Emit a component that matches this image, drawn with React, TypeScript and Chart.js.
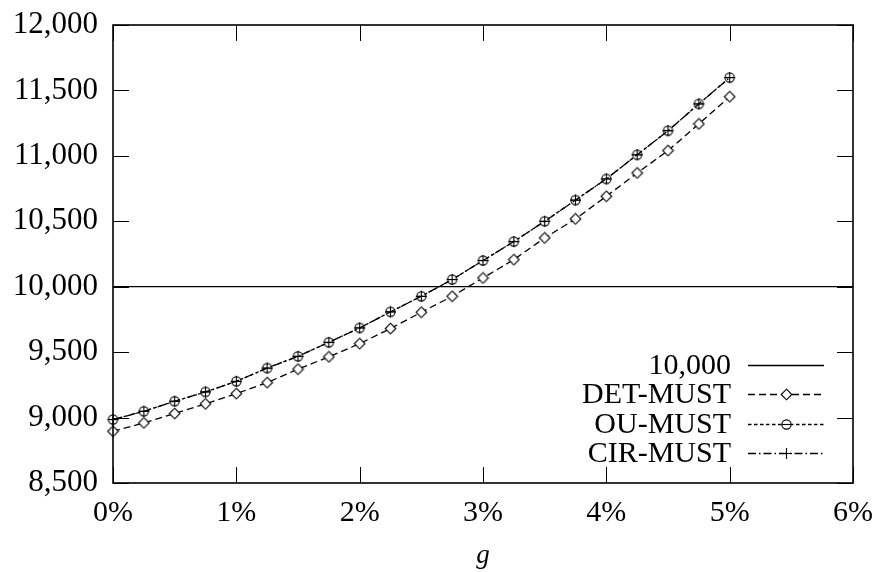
import React, { useEffect, useRef } from 'react';
import { Chart, registerables } from 'chart.js';

Chart.register(...registerables);

// ---- data ----
const G_VALUES = [0, 0.25, 0.5, 0.75, 1, 1.25, 1.5, 1.75, 2, 2.25, 2.5, 2.75, 3, 3.25, 3.5, 3.75, 4, 4.25, 4.5, 4.75, 5];
const DET_MUST = [8895, 8959, 9031, 9105, 9183, 9267, 9370, 9464, 9565, 9680, 9805, 9927, 10067, 10207, 10373, 10518, 10691, 10869, 11040, 11244, 11452];
const OU_MUST = [8985, 9048, 9125, 9196, 9277, 9378, 9468, 9575, 9685, 9808, 9927, 10055, 10200, 10345, 10500, 10662, 10824, 11008, 11192, 11397, 11598];
const CIR_MUST = [8985, 9048, 9125, 9196, 9277, 9378, 9468, 9575, 9685, 9808, 9927, 10055, 10200, 10345, 10500, 10662, 10824, 11008, 11192, 11397, 11598];
const REF_VALUE = 10000;
const X_RANGE = [0, 6];
const Y_RANGE = [8500, 12000];
const X_STEP = 1;
const Y_STEP = 500;
const SERIES_LABELS = ['10,000', 'DET-MUST', 'OU-MUST', 'CIR-MUST'];
const X_TITLE = 'g';

const FONT = '"Liberation Serif", "DejaVu Serif", serif';

function makeMarker(kind: string): HTMLCanvasElement {
  const c = document.createElement('canvas');
  c.width = 13;
  c.height = 13;
  const ctx = c.getContext('2d')!;
  ctx.strokeStyle = '#000';
  ctx.fillStyle = '#fff';
  ctx.lineWidth = 1.1;
  const m = 6.5;
  if (kind === 'diamond') {
    ctx.beginPath();
    ctx.moveTo(m, 1.2);
    ctx.lineTo(11.8, m);
    ctx.lineTo(m, 11.8);
    ctx.lineTo(1.2, m);
    ctx.closePath();
    ctx.fill();
    ctx.stroke();
  } else if (kind === 'circleminus') {
    ctx.beginPath();
    ctx.arc(m, m, 4.6, 0, Math.PI * 2);
    ctx.fill();
    ctx.stroke();
    ctx.beginPath();
    ctx.moveTo(2, m);
    ctx.lineTo(11, m);
    ctx.stroke();
  } else if (kind === 'plus') {
    ctx.beginPath();
    ctx.moveTo(m, 1);
    ctx.lineTo(m, 12);
    ctx.moveTo(1, m);
    ctx.lineTo(12, m);
    ctx.stroke();
  }
  return c;
}

export default function App() {
  const ref = useRef<HTMLCanvasElement | null>(null);

  useEffect(() => {
    let chart: any = null;
    let cancelled = false;

    const build = () => {
      if (cancelled || !ref.current) return;
      const diamond = makeMarker('diamond');
      const circ = makeMarker('circleminus');
      const plus = makeMarker('plus');

      const toPts = (ys: number[]) => G_VALUES.map((x, i) => ({ x, y: ys[i] }));

      const frameAndLegend = {
        id: 'frameAndLegend',
        afterDraw(c: any) {
          const { ctx, chartArea } = c;
          const { left, right, top, bottom } = chartArea;
          const xs = c.scales.x;
          const ys = c.scales.y;
          ctx.save();
          ctx.strokeStyle = '#000';
          ctx.lineWidth = 1;
          const tl = 16;
          for (let v = X_RANGE[0]; v <= X_RANGE[1]; v += X_STEP) {
            const px = Math.round(xs.getPixelForValue(v)) + 0.5;
            ctx.beginPath();
            ctx.moveTo(px, bottom);
            ctx.lineTo(px, bottom - tl);
            ctx.moveTo(px, top);
            ctx.lineTo(px, top + tl);
            ctx.stroke();
          }
          for (let v = Y_RANGE[0]; v <= Y_RANGE[1]; v += Y_STEP) {
            const py = Math.round(ys.getPixelForValue(v)) + 0.5;
            ctx.beginPath();
            ctx.moveTo(left, py);
            ctx.lineTo(left + tl, py);
            ctx.moveTo(right, py);
            ctx.lineTo(right - tl, py);
            ctx.stroke();
          }
          ctx.lineWidth = 1.6;
          ctx.strokeRect(left, top, right - left, bottom - top);

          const textRight = right - 122;
          const lineStart = right - 105;
          const lineEnd = right - 29;
          const mid = (lineStart + lineEnd) / 2;
          const firstRow = bottom - 118;
          const pitch = 29.3;
          ctx.font = `30px ${FONT}`;
          ctx.fillStyle = '#000';
          ctx.textAlign = 'right';
          ctx.textBaseline = 'middle';
          c.data.datasets.forEach((ds: any, i: number) => {
            const y = Math.round(firstRow + i * pitch) + 0.5;
            ctx.fillText(ds.label, textRight, y + 1);
            ctx.save();
            ctx.lineWidth = ds.borderWidth;
            ctx.setLineDash(ds.borderDash || []);
            ctx.beginPath();
            ctx.moveTo(lineStart, y);
            ctx.lineTo(lineEnd, y);
            ctx.stroke();
            ctx.restore();
            const ps = ds.pointStyle;
            if (ps && typeof ps !== 'string' && ds.pointRadius > 0) {
              ctx.drawImage(ps, Math.round(mid - ps.width / 2), Math.round(y - ps.height / 2));
            }
          });
          ctx.restore();
        },
      };

      chart = new Chart(ref.current, {
        type: 'line',
        data: {
          datasets: [
            {
              label: SERIES_LABELS[0],
              data: X_RANGE.map((x) => ({ x, y: REF_VALUE })),
              borderColor: '#000',
              borderWidth: 1.3,
              pointRadius: 0,
              pointStyle: false as any,
              order: 3,
            },
            {
              label: SERIES_LABELS[1],
              data: toPts(DET_MUST),
              borderColor: '#000',
              borderWidth: 1.3,
              borderDash: [7, 4],
              pointStyle: diamond as any,
              pointRadius: 5,
              clip: false as any,
              order: 2,
            },
            {
              label: SERIES_LABELS[2],
              data: toPts(OU_MUST),
              borderColor: '#000',
              borderWidth: 1.3,
              borderDash: [3.5, 2.5],
              pointStyle: circ as any,
              pointRadius: 5,
              clip: false as any,
              order: 1,
            },
            {
              label: SERIES_LABELS[3],
              data: toPts(CIR_MUST),
              borderColor: '#000',
              borderWidth: 1.3,
              borderDash: [8, 3, 1.5, 3],
              pointStyle: plus as any,
              pointRadius: 5,
              clip: false as any,
              order: 0,
            },
          ],
        },
        options: {
          animation: false,
          responsive: false,
          maintainAspectRatio: false,
          layout: { padding: { top: 25, right: 21, left: 0, bottom: 0 } },
          plugins: {
            legend: { display: false },
            tooltip: { enabled: false },
          },
          elements: { line: { tension: 0 } },
          scales: {
            x: {
              type: 'linear',
              min: X_RANGE[0],
              max: X_RANGE[1],
              grid: { display: false, drawTicks: false },
              border: { display: false },
              ticks: {
                stepSize: X_STEP,
                color: '#000',
                font: { family: FONT, size: 30 },
                padding: 12,
                maxRotation: 0,
                callback: (v: any) => `${v}%`,
              },
              title: {
                display: true,
                text: X_TITLE,
                color: '#000',
                font: { family: FONT, size: 27, style: 'italic' },
                padding: { top: 0, bottom: 0 },
              },
              afterFit: (s: any) => {
                s.height = 89;
                s.paddingLeft = 0;
                s.paddingRight = 0;
              },
            },
            y: {
              type: 'linear',
              min: Y_RANGE[0],
              max: Y_RANGE[1],
              grid: { display: false, drawTicks: false },
              border: { display: false },
              ticks: {
                stepSize: Y_STEP,
                color: '#000',
                font: { family: FONT, size: 31 },
                padding: 15,
                callback: (v: any) => Number(v).toLocaleString('en-US'),
              },
              afterFit: (s: any) => {
                s.width = 113;
                s.paddingTop = 0;
                s.paddingBottom = 0;
              },
            },
          },
        },
        plugins: [frameAndLegend],
      });
    };

    const fonts: any = (document as any).fonts;
    if (fonts && fonts.load) {
      Promise.all([
        fonts.load('30px "Liberation Serif"'),
        fonts.load('italic 28px "Liberation Serif"'),
      ]).then(build, build);
    } else {
      build();
    }

    return () => {
      cancelled = true;
      if (chart) chart.destroy();
    };
  }, []);

  return (
    <div style={{ position: 'fixed', left: 0, top: 0, width: 874, height: 572, background: '#fff' }}>
      <span style={{ fontFamily: '"Liberation Serif"', position: 'absolute', left: -9999, top: 0 }}>0123456789 g</span>
      <canvas ref={ref} width={874} height={572} style={{ display: 'block', width: 874, height: 572 }} />
    </div>
  );
}
